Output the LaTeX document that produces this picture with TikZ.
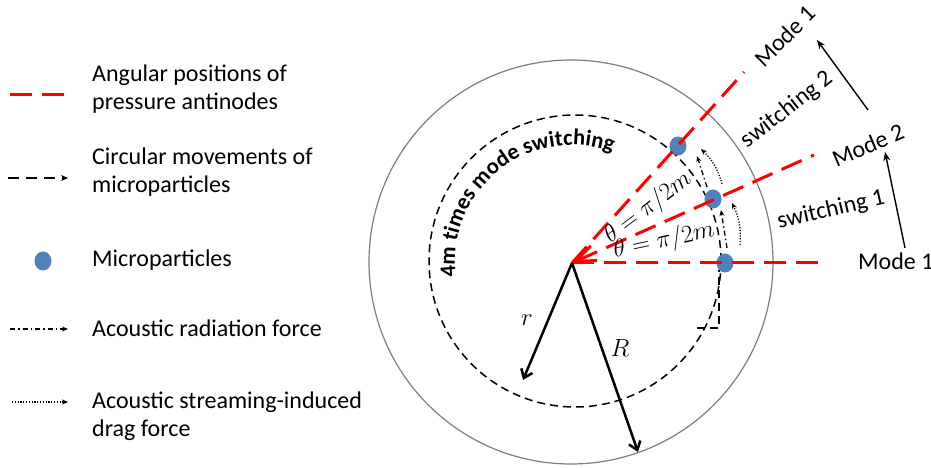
\documentclass[tikz,border=0pt]{standalone}
\usepackage{fontspec}
\setmainfont{Carlito}
\usetikzlibrary{arrows.meta,decorations.text,shapes.geometric}
\definecolor{antired}{RGB}{255,0,0}
\definecolor{partblue}{RGB}{79,129,189}
\definecolor{rimgray}{RGB}{125,125,125}
\begin{document}
\begin{tikzpicture}[x=1pt,y=1pt,
  lbl/.style={font=\fontsize{24}{28}\selectfont, inner sep=0pt, align=left},
  mathlbl/.style={font=\fontsize{23}{28}\selectfont, inner sep=0pt},
  antinode/.style={draw=antired, line width=3pt, dash pattern=on 22pt off 10pt},
  movepath/.style={line width=1.5pt, dash pattern=on 8pt off 5pt},
  radforce/.style={line width=1.3pt, dash pattern=on 5pt off 3pt on 1.5pt off 3pt, -{Stealth[length=6pt,width=5pt]}},
  dragforce/.style={line width=1.3pt, dash pattern=on 1.2pt off 1.6pt, -{Stealth[length=6pt,width=5pt]}},
  particle/.style={ellipse, fill=partblue, minimum width=17pt, minimum height=19pt, inner sep=0pt},
  radius arrow/.style={line width=2.5pt, -{Straight Barb[length=8pt,width=12pt]}},
  switch arrow/.style={line width=1.4pt, -{Stealth[length=9pt,width=7pt]}}]
\useasboundingbox (0,0) rectangle (931,468);

% ---------- circles ----------
\coordinate (C) at (572,205);
\coordinate (Co) at (571,206);
\coordinate (Ci) at (575,207);
\draw[rimgray, line width=1.2pt] (Co) circle[radius=202];
\draw[movepath] (Ci) circle[radius=146];

% curved label
\path[decorate, decoration={text along path, text align=center,
  text={|\fontsize{22.5}{26}\selectfont\bfseries|4m times mode switching}}]
  (572,206) ++(186:117) arc[start angle=186, end angle=71, radius=117];

% ---------- particles ----------
\node[particle] (p1) at (725,205) {};
\node[particle] (p2) at (713,269) {};
\node[particle] (p3) at (678,322) {};

% ---------- antinode lines ----------
\coordinate (e0) at (828,205);
\coordinate (e24) at (814,313);
\coordinate (e48) at (744,396);
\draw[antinode] (C) -- (e0);
\draw[antinode] (C) -- (e48);
\draw[antinode, {Straight Barb[length=20pt,width=16pt]}-] (C) -- (e24);

% ---------- forces near particles ----------
\coordinate (ra1) at (727,220);
\coordinate (ra2) at (721,258);
\coordinate (ra3) at (707,281);
\coordinate (ra4) at (697,312);
\draw[radforce] (ra1) -- (ra2);
\draw[radforce] (ra3) -- (ra4);
\coordinate (dr1) at (740,223);
\coordinate (dr2) at (732,265);
\coordinate (dr3) at (722,284);
\coordinate (dr4) at (701,319);
\draw[dragforce] (dr1) to[bend right=15] (dr2);
\draw[dragforce] (dr3) to[bend right=15] (dr4);
\coordinate (mv1) at (697,140);
\coordinate (mv2) at (719,140);
\coordinate (mv3) at (719,198);
\draw[movepath] (mv1) -- (mv2) -- (mv3);

% ---------- theta labels ----------
\node[mathlbl, rotate=12] (th1) at (664,227) {$\theta = \pi/2m$};
\node[mathlbl, rotate=37] (th2) at (648,260) {$\theta = \pi/2m$};

% ---------- radii ----------
\coordinate (rend) at (523,88);
\coordinate (Rend) at (638,16);
\draw[radius arrow] (C) -- (rend);
\draw[radius arrow] (C) -- (Rend);
\node[mathlbl] (rl) at (527,148) {$r$};
\node[mathlbl] (Rl) at (620,120) {$R$};

% ---------- mode labels ----------
\node[lbl, anchor=base west] (m1b) at (858,198) {Mode 1};
\node[lbl, rotate=23] (m2) at (868,323) {Mode 2};
\node[lbl, rotate=45] (m1t) at (785,432) {Mode 1};
\node[lbl, rotate=13] (sw1) at (831,258) {switching 1};
\node[lbl, rotate=38] (sw2) at (787,358) {switching 2};
\coordinate (a1s) at (905,220);
\coordinate (a1e) at (885,316);
\coordinate (a2s) at (868,358);
\coordinate (a2e) at (817,428);
\draw[switch arrow] (a1s) -- (a1e);
\draw[switch arrow] (a2s) -- (a2e);

% ---------- legend ----------
\coordinate (l1a) at (10,373);
\coordinate (l1b) at (67,373);
\draw[antinode] (l1a) -- (l1b);
\node[lbl, anchor=base west] (t1) at (92,358) {Angular positions of\\pressure antinodes};

\coordinate (l2a) at (8,290);
\coordinate (l2b) at (68,290);
\draw[line width=1.5pt, dash pattern=on 11pt off 7pt, -{Stealth[length=7pt,width=6pt]}] (l2a) -- (l2b);
\node[lbl, anchor=base west] (t2) at (92,275) {Circular movements of\\microparticles};

\node[particle] (lp) at (43,207) {};
\node[lbl, anchor=base west] (t3) at (92,201) {Microparticles};

\coordinate (l4a) at (10,139);
\coordinate (l4b) at (68,139);
\draw[radforce] (l4a) -- (l4b);
\node[lbl, anchor=base west] (t4) at (92,131) {Acoustic radiation force};

\coordinate (l5a) at (12,66);
\coordinate (l5b) at (68,66);
\draw[dragforce] (l5a) -- (l5b);
\node[lbl, anchor=base west] (t5) at (92,31) {Acoustic streaming-induced\\drag force};
\end{tikzpicture}
\end{document}
